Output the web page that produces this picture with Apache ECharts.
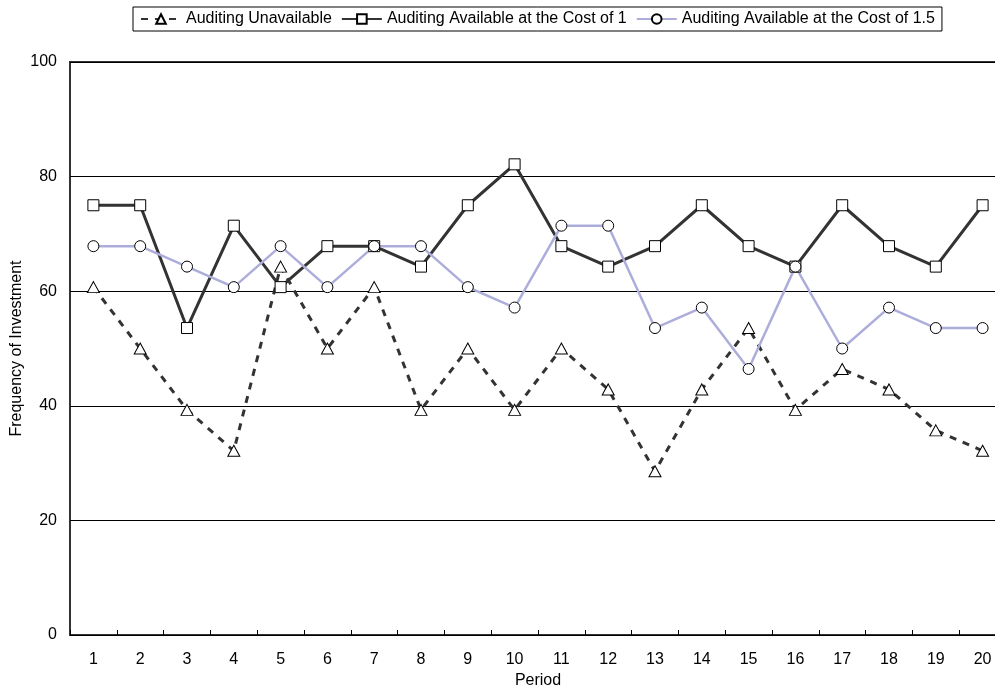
<!DOCTYPE html>
<html>
<head>
<meta charset="utf-8">
<script src="https://cdn.jsdelivr.net/npm/echarts@6/dist/echarts.min.js"></script>
<style>
html,body{margin:0;padding:0;background:#fff;}
#chart{width:995px;height:689px;}
</style>
</head>
<body>
<div id="chart"></div>
<script>
var periods = ['1','2','3','4','5','6','7','8','9','10','11','12','13','14','15','16','17','18','19','20'];
var unavailable = [60.71,50,39.29,32.14,64.29,50,60.71,39.29,50,39.29,50,42.86,28.57,42.86,53.57,39.29,46.43,42.86,35.71,32.14];
var cost1 = [75,75,53.57,71.43,60.71,67.86,67.86,64.29,75,82.14,67.86,64.29,67.86,75,67.86,64.29,75,67.86,64.29,75];
var cost15 = [67.86,67.86,64.29,60.71,67.86,60.71,67.86,67.86,60.71,57.14,71.43,71.43,53.57,57.14,46.43,64.29,50,57.14,53.57,53.57];
var seriesNames = ['Auditing Unavailable','Auditing Available at the Cost of 1','Auditing Available at the Cost of 1.5'];
var yTicks = [0,20,40,60,80,100];

var FONT = 'Liberation Sans, Arial, sans-serif';
var chart = echarts.init(document.getElementById('chart'), null, {renderer:'canvas'});
var markerStyle = {color:'#fff', borderColor:'#000', borderWidth:1};
chart.setOption({
  animation:false,
  backgroundColor:'#fff',
  textStyle:{fontFamily:FONT},
  legend:{
    left:133, top:7,
    padding:[4,7],
    borderColor:'#000', borderWidth:1,
    itemWidth:40, itemHeight:12, itemGap:9,
    textStyle:{fontSize:16, color:'#000', fontFamily:FONT},
    data:seriesNames
  },
  grid:{left:70, right:-11, top:62, bottom:54, show:true, borderColor:'#333', borderWidth:2,
        containLabel:false, outerBoundsMode:'none'},
  xAxis:{
    type:'category', data:periods, boundaryGap:true,
    name:'Period', nameLocation:'middle', nameGap:38, nameMoveOverlap:false,
    nameTextStyle:{fontSize:16, color:'#000', fontFamily:FONT},
    axisLine:{show:false},
    axisTick:{show:true, inside:true, length:5, lineStyle:{color:'#000', width:1}},
    axisLabel:{fontSize:16, color:'#000', margin:17, fontFamily:FONT},
    splitLine:{show:false}
  },
  yAxis:{
    type:'value', min:yTicks[0], max:yTicks[yTicks.length-1], interval:20,
    name:'Frequency of Investment', nameLocation:'middle', nameGap:45, nameMoveOverlap:false,
    nameTextStyle:{fontSize:16, color:'#000', fontFamily:FONT},
    axisLine:{show:false}, axisTick:{show:false},
    axisLabel:{fontSize:16, color:'#000', margin:13, fontFamily:FONT},
    splitLine:{show:true, lineStyle:{color:'#000', width:1}}
  },
  series:[
    {name:seriesNames[0], type:'line', data:unavailable, symbol:'triangle', symbolSize:[12,11],
     lineStyle:{color:'#333', width:3, type:[7,7]}, itemStyle:markerStyle, color:'#333'},
    {name:seriesNames[1], type:'line', data:cost1, symbol:'rect', symbolSize:11,
     lineStyle:{color:'#333', width:3}, itemStyle:markerStyle, color:'#333'},
    {name:seriesNames[2], type:'line', data:cost15, symbol:'circle', symbolSize:11,
     lineStyle:{color:'#ADADDB', width:2.5}, itemStyle:markerStyle, color:'#ADADDB'}
  ]
});
</script>
</body>
</html>
